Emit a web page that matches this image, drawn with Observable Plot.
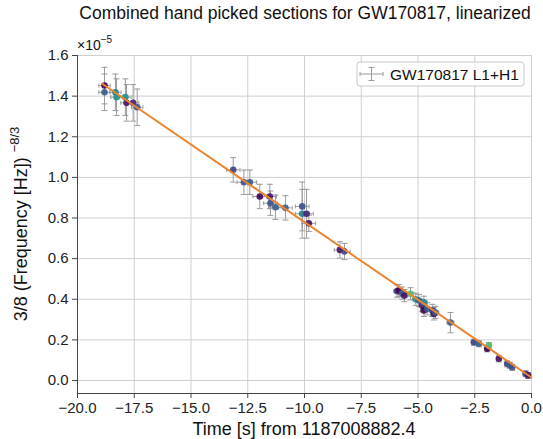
<!DOCTYPE html>
<html>
<head>
<meta charset="utf-8">
<script src="https://cdn.jsdelivr.net/npm/d3@7"></script>
<script src="https://cdn.jsdelivr.net/npm/@observablehq/plot@0.6"></script>
<style>
  html, body { margin: 0; padding: 0; background: white; }
  #chart { width: 543px; height: 439px; }
</style>
</head>
<body>
<div id="chart"></div>
<script>
// ---- data (values in units of 1e-5 for y) ----
const timeSec = [
  -18.81, -18.81, -18.33, -18.28, -17.89, -17.84, -17.55, -17.37,
  -13.14, -12.67, -12.41, -11.97, -11.53, -11.50, -11.28, -10.84, -10.10, -10.10, -9.91, -9.81,
  -8.44, -8.24,
  -5.92, -5.85, -5.70, -5.60, -5.33, -5.10, -4.96, -4.82, -4.74, -4.74, -4.59, -4.37, -4.30, -4.23,
  -3.57,
  -2.54, -2.32, -1.95, -1.88, -1.44, -1.07, -0.95, -0.85, -0.26, -0.15
];
const freqTerm = [
  1.452, 1.419, 1.419, 1.395, 1.395, 1.367, 1.367, 1.345,
  1.037, 0.976, 0.976, 0.906, 0.906, 0.873, 0.853, 0.850, 0.857, 0.821, 0.821, 0.774,
  0.643, 0.635,
  0.440, 0.443, 0.430, 0.418, 0.427, 0.400, 0.394, 0.369, 0.385, 0.345, 0.353, 0.345, 0.328, 0.335,
  0.285,
  0.188, 0.181, 0.156, 0.172, 0.107, 0.082, 0.075, 0.065, 0.033, 0.025
];
const freqErr = [
  0.09, 0.09, 0.09, 0.09, 0.09, 0.09, 0.09, 0.09,
  0.06, 0.06, 0.06, 0.06, 0.06, 0.06, 0.06, 0.06, 0.12, 0.12, 0.12, 0.04,
  0.04, 0.04,
  0.03, 0.03, 0.03, 0.03, 0.03, 0.03, 0.03, 0.03, 0.03, 0.03, 0.03, 0.03, 0.03, 0.03,
  0.05,
  0.015, 0.015, 0.015, 0.015, 0.015, 0.015, 0.015, 0.015, 0.015, 0.015
];
const timeErr = [
  0.25, 0.25, 0.25, 0.25, 0.25, 0.25, 0.25, 0.25,
  0.3, 0.3, 0.3, 0.3, 0.3, 0.3, 0.3, 0.3, 0.3, 0.3, 0.3, 0.3,
  0.25, 0.25,
  0.15, 0.15, 0.15, 0.15, 0.15, 0.15, 0.15, 0.15, 0.15, 0.15, 0.15, 0.15, 0.15, 0.15,
  0.15,
  0.1, 0.1, 0.1, 0.1, 0.1, 0.1, 0.1, 0.1, 0.1, 0.1
];
const shade = [
  0.0, 0.3, 0.45, 0.5, 0.5, 0.05, 0.1, 0.25,
  0.2, 0.25, 0.3, 0.0, 0.05, 0.25, 0.3, 0.3, 0.25, 0.45, 0.1, 0.05,
  0.05, 0.2,
  0.2, 0.0, 0.3, 0.05, 0.7, 0.5, 0.3, 0.1, 0.45, 0.0, 0.3, 0.2, 0.05, 0.3,
  0.3,
  0.2, 0.3, 0.0, 0.7, 0.05, 0.2, 0.3, 0.25, 0.2, 0.05
];
const fitTime = [-18.91, 0.0];
const fitFreq = [1.461, 0.015];

const xTicks = [-20, -17.5, -15, -12.5, -10, -7.5, -5, -2.5, 0];
const yTicks = [0.0, 0.2, 0.4, 0.6, 0.8, 1.0, 1.2, 1.4, 1.6];
const xDomain = [-20, 0];
const yDomain = [-0.064, 1.6];

const titleText = "Combined hand picked sections for GW170817, linearized";
const xLabel = "Time [s] from 1187008882.4";
const yLabelMain = "3/8 (Frequency [Hz])";
const yLabelSup = "\u22128/3";
const legendLabel = "GW170817 L1+H1";

// ---- build table ----
const points = timeSec.map((t, i) => ({
  t, f: freqTerm[i], fe: freqErr[i], te: timeErr[i], c: shade[i]
}));
const fit = fitTime.map((t, i) => ({t, f: fitFreq[i]}));

const hCap = {draw(ctx, size) { const r = Math.sqrt(size / Math.PI); ctx.moveTo(-r, 0); ctx.lineTo(r, 0); }};
const vCap = {draw(ctx, size) { const r = Math.sqrt(size / Math.PI); ctx.moveTo(0, -r); ctx.lineTo(0, r); }};

const errColor = "#9a9a9a";
const gridColor = "#cfcfcf";
const fmt = d3.format(".1f");
const ff = "'Liberation Sans', Arial, sans-serif";

const chart = Plot.plot({
  width: 543,
  height: 439,
  marginLeft: 77,
  marginRight: 12,
  marginTop: 55,
  marginBottom: 46,
  style: {fontFamily: ff, fontSize: "15px", color: "#222", background: "white"},
  x: {domain: xDomain},
  y: {domain: yDomain},
  color: {type: "linear", scheme: "viridis", domain: [0, 1]},
  marks: [
    Plot.gridX(xTicks, {stroke: gridColor, strokeOpacity: 1}),
    Plot.gridY(yTicks, {stroke: gridColor, strokeOpacity: 1}),
    Plot.ruleX(points, {x: "t", y1: d => d.f - d.fe, y2: d => d.f + d.fe, stroke: errColor, strokeWidth: 1}),
    Plot.dot(points, {x: "t", y: d => d.f + d.fe, symbol: hCap, r: 3, stroke: errColor, strokeWidth: 1}),
    Plot.dot(points, {x: "t", y: d => d.f - d.fe, symbol: hCap, r: 3, stroke: errColor, strokeWidth: 1}),
    Plot.ruleY(points, {y: "f", x1: d => d.t - d.te, x2: d => d.t + d.te, stroke: errColor, strokeWidth: 1}),
    Plot.dot(points, {x: d => d.t - d.te, y: "f", symbol: vCap, r: 2, stroke: errColor, strokeWidth: 1}),
    Plot.dot(points, {x: d => d.t + d.te, y: "f", symbol: vCap, r: 2, stroke: errColor, strokeWidth: 1}),
    Plot.dot(points, {x: "t", y: "f", fill: "c", r: 3.3, fillOpacity: 0.9}),
    Plot.line(fit, {x: "t", y: "f", stroke: "#ec8530", strokeWidth: 2}),
    Plot.ruleX([xDomain[0]], {stroke: "#444", strokeWidth: 1}),
    Plot.ruleY([yDomain[0]], {stroke: "#444", strokeWidth: 1}),
    Plot.axisX(xTicks, {tickFormat: fmt, tickSize: 5, tickPadding: 4, fontSize: 15, label: null, stroke: "#444"}),
    Plot.axisY(yTicks, {tickFormat: fmt, tickSize: 5, tickPadding: 4, fontSize: 15, label: null, stroke: "#444"})
  ]
});
document.getElementById("chart").appendChild(chart);

// ---- annotations ----
const svg = d3.select(chart);
svg.selectAll('[aria-label="x-axis tick label"], [aria-label="y-axis tick label"]')
  .attr("font-size", 15).attr("font-family", ff).attr("fill", "#222");

svg.append("text").attr("x", 305).attr("y", 19).attr("text-anchor", "middle")
  .attr("font-family", ff).attr("font-size", 17.5).attr("fill", "#111").text(titleText);
svg.append("text").attr("x", 304).attr("y", 435).attr("text-anchor", "middle")
  .attr("font-family", ff).attr("font-size", 18).attr("fill", "#111").text(xLabel);

const yl = svg.append("text").attr("transform", "translate(27,224) rotate(-90)")
  .attr("text-anchor", "middle").attr("font-family", ff).attr("font-size", 18).attr("fill", "#111");
yl.append("tspan").text(yLabelMain + " ");
yl.append("tspan").attr("dy", "-0.6em").attr("font-size", 13).text(yLabelSup);

const ex = svg.append("text").attr("x", 77).attr("y", 50).attr("text-anchor", "start")
  .attr("font-family", ff).attr("font-size", 14).attr("fill", "#111");
ex.append("tspan").text("\u00d710");
ex.append("tspan").attr("dy", "-0.75em").attr("font-size", 10).text("\u22125");

// legend
const lg = svg.append("g");
lg.append("rect").attr("x", 357).attr("y", 62).attr("width", 167).attr("height", 24).attr("rx", 3)
  .attr("fill", "white").attr("fill-opacity", 0.85).attr("stroke", "#c8c8c8");
lg.append("line").attr("x1", 360).attr("x2", 383).attr("y1", 74).attr("y2", 74).attr("stroke", errColor);
lg.append("line").attr("x1", 360).attr("x2", 360).attr("y1", 72).attr("y2", 76).attr("stroke", errColor);
lg.append("line").attr("x1", 383).attr("x2", 383).attr("y1", 72).attr("y2", 76).attr("stroke", errColor);
lg.append("line").attr("x1", 371.5).attr("x2", 371.5).attr("y1", 67.5).attr("y2", 80.5).attr("stroke", errColor);
lg.append("line").attr("x1", 368.5).attr("x2", 374.5).attr("y1", 67.5).attr("y2", 67.5).attr("stroke", errColor);
lg.append("line").attr("x1", 368.5).attr("x2", 374.5).attr("y1", 80.5).attr("y2", 80.5).attr("stroke", errColor);
lg.append("text").attr("x", 390).attr("y", 79.5).attr("text-anchor", "start")
  .attr("font-family", ff).attr("font-size", 15.5).attr("fill", "#111").text(legendLabel);
</script>
</body>
</html>
